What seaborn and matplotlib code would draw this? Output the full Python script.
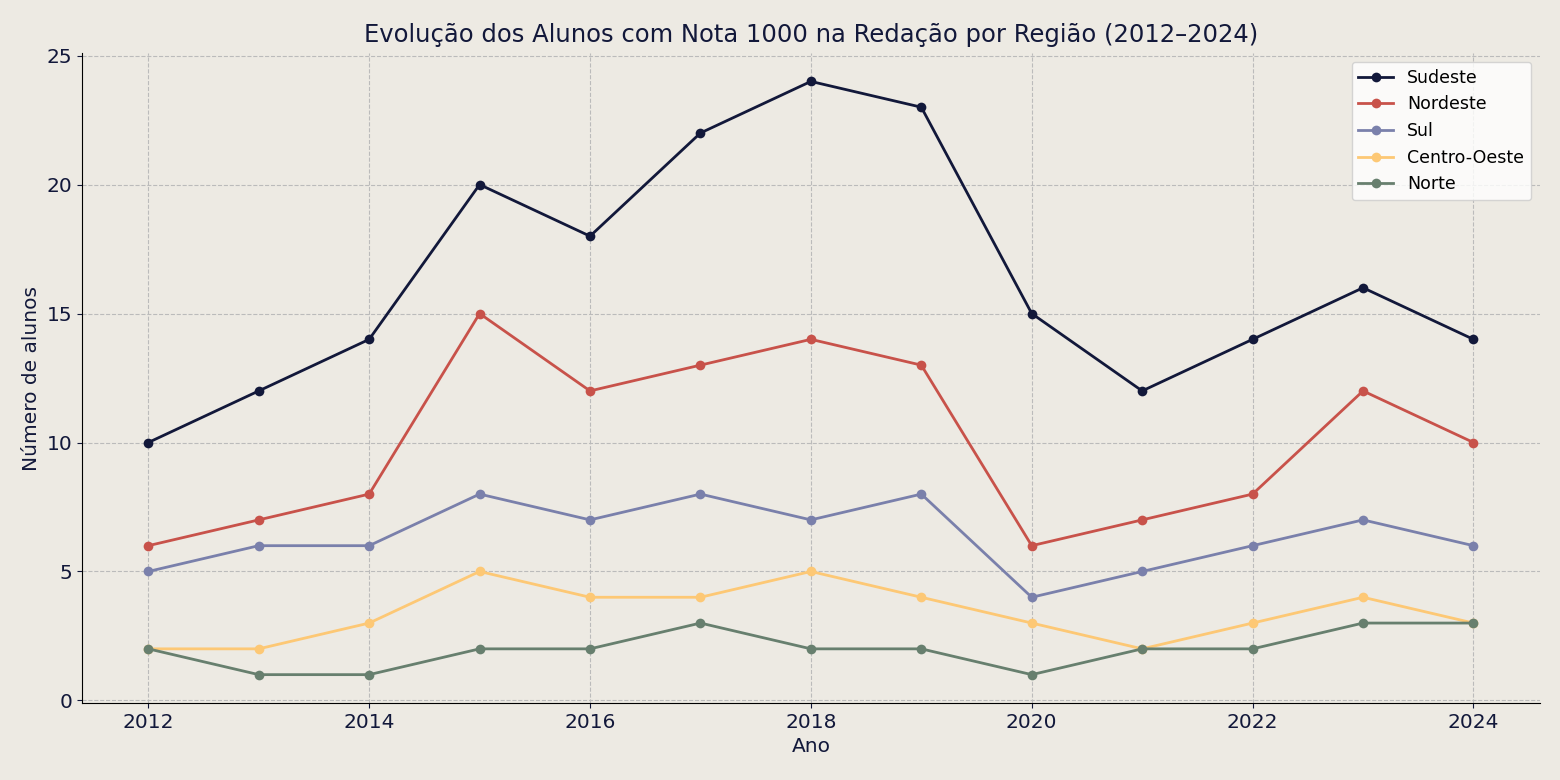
import pandas as pd
import matplotlib.pyplot as plt
import seaborn as sns

anos = list(range(2012, 2025))
sudeste = [10, 12, 14, 20, 18, 22, 24, 23, 15, 12, 14, 16, 14]
nordeste = [6, 7, 8, 15, 12, 13, 14, 13, 6, 7, 8, 12, 10]
sul = [5, 6, 6, 8, 7, 8, 7, 8, 4, 5, 6, 7, 6]
centro_oeste = [2, 2, 3, 5, 4, 4, 5, 4, 3, 2, 3, 4, 3]
norte = [2, 1, 1, 2, 2, 3, 2, 2, 1, 2, 2, 3, 3]

series = {
    "Sudeste": sudeste,
    "Nordeste": nordeste,
    "Sul": sul,
    "Centro-Oeste": centro_oeste,
    "Norte": norte,
}
cores = ["#12183a", "#c8524a", "#7a80ab", "#fdc875", "#677f6e"]

df = pd.DataFrame(
    [(a, r, v) for r, vals in series.items() for a, v in zip(anos, vals)],
    columns=["Ano", "Regiao", "Alunos"],
)

bg = "#edeae3"
text_color = "#12183a"
fig, ax = plt.subplots(figsize=(15.6, 7.8), dpi=100)
fig.patch.set_facecolor(bg)
ax.set_facecolor(bg)

sns.lineplot(data=df, x="Ano", y="Alunos", hue="Regiao", palette=cores,
             marker="o", markersize=7, markeredgewidth=0, linewidth=2, ax=ax)

ax.set_title("Evolução dos Alunos com Nota 1000 na Redação por Região (2012–2024)",
             fontsize=17.5, color=text_color, pad=8)
ax.set_xlabel("Ano", fontsize=14.5, color=text_color)
ax.set_ylabel("Número de alunos", fontsize=14.5, color=text_color)
ax.set_xticks(range(2012, 2025, 2))
ax.set_yticks(range(0, 26, 5))
ax.set_xlim(2011.4, 2024.6)
ax.set_ylim(-0.1, 25.1)
ax.tick_params(labelsize=14.5, colors=text_color)
ax.grid(True, linestyle="--", color="#bbbbbb", linewidth=0.8)
for s in ["top", "right"]:
    ax.spines[s].set_visible(False)
ax.legend(title=None, fontsize=12.5, loc="upper right", facecolor="white", framealpha=0.8)

fig.subplots_adjust(left=0.0526, right=0.987, top=0.932, bottom=0.0987)
plt.savefig("out.png", facecolor=bg)
